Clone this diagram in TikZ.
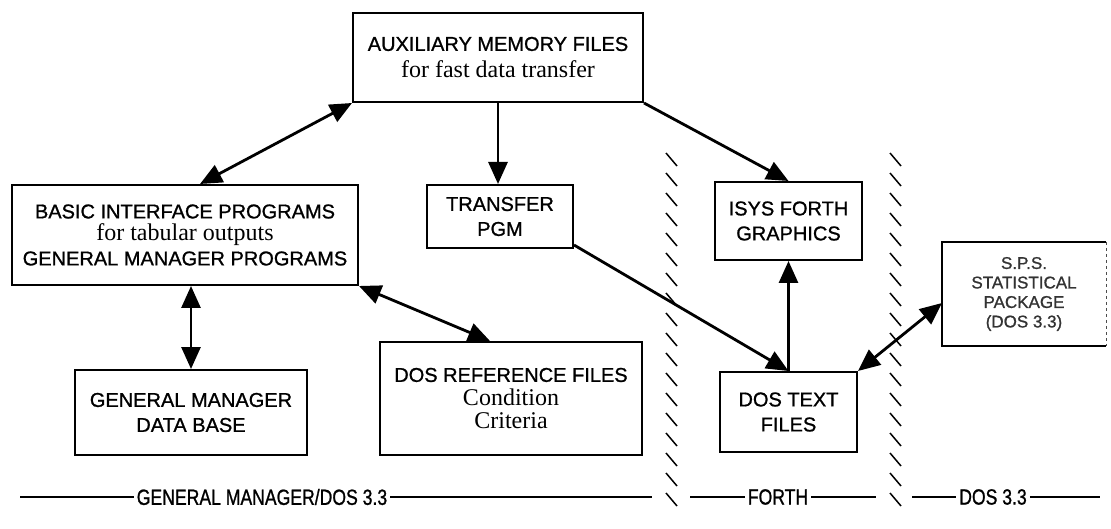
\documentclass[tikz,border=0pt]{standalone}
\usepackage{fontspec}
\setmainfont{Liberation Sans}[RawFeature={embolden=1}]
\newfontfamily\serifpart{Liberation Serif}
\newfontfamily\narrowsans{Liberation Sans}[FakeStretch=0.8, RawFeature={embolden=1}]
\usetikzlibrary{arrows.meta}

\newcommand{\srf}[1]{{\serifpart\fontsize{24}{28}\selectfont #1}}

\tikzset{
    box/.style={draw, line width=2pt, inner sep=0pt, align=center,
        font=\fontsize{20}{25}\selectfont},
    link/.style={line width=2.8pt, -{Triangle[length=22pt,width=19pt]}},
    dbl/.style={line width=2.8pt,
        {Triangle[length=22pt,width=19pt]}-{Triangle[length=22pt,width=19pt]}},
    hatch/.style={line width=1.5pt},
    rule/.style={line width=1.5pt},
    zone/.style={inner sep=3pt, font=\narrowsans\fontsize{22}{24}\selectfont}
}

\begin{document}
\begin{tikzpicture}[x=1pt, y=-1pt]
    \useasboundingbox (0,0) rectangle (1111,529);

    % boxes
    \node[box, minimum width=290pt, minimum height=89pt] (aux) at (498,57.5)
        {AUXILIARY MEMORY FILES\\[2pt] \srf{for fast data transfer}};
    \node[box, minimum width=346pt, minimum height=100pt] (basic) at (185,235)
        {BASIC INTERFACE PROGRAMS\\[-3pt] \srf{for tabular outputs}\\ GENERAL MANAGER PROGRAMS};
    \node[box, minimum width=146pt, minimum height=63pt] (transfer) at (500,216.5)
        {TRANSFER\\ PGM};
    \node[box, minimum width=147pt, minimum height=78pt] (isys) at (788.5,221)
        {ISYS FORTH\\ GRAPHICS};
    \node[box, minimum width=232pt, minimum height=85pt] (gmdb) at (191,412.5)
        {GENERAL MANAGER\\ DATA BASE};
    \node[box, minimum width=262pt, minimum height=113pt] (dosref) at (511,398.5)
        {DOS REFERENCE FILES\\[-1pt] \srf{Condition}\\[-2pt] \srf{Criteria}};
    \node[box, minimum width=137pt, minimum height=80pt] (dostext) at (788.5,412)
        {DOS TEXT\\ FILES};
    \node[box, draw=none, text=black!80, minimum width=162pt, minimum height=102pt,
        font=\fontsize{17}{19.5}\selectfont] (sps) at (1024,294)
        {S.P.S.\\ STATISTICAL\\ PACKAGE\\ (DOS 3.3)};
    \draw[line width=2pt] (sps.north east) -- (sps.north west) -- (sps.south west) -- (sps.south east);
    \draw[line width=1pt, dashed, black!70] (sps.north east) -- (sps.south east);

    % connectors
    \draw[dbl] ([xshift=15pt]basic.north) -- (aux.south west);
    \draw[link] (aux.south) -- (aux.south |- transfer.north);
    \draw[link] (aux.south east) -- (isys.north);
    \draw[link] ([yshift=4pt]transfer.south east) -- (dostext.north);
    \draw[link] (dostext.north) -- (isys.south);
    \draw[dbl] (gmdb.north |- basic.south) -- (gmdb.north);
    \draw[dbl] (basic.south east) -- ([xshift=-21pt]dosref.north);
    \draw[dbl] (dostext.north east) -- ([yshift=-9pt]sps.west);

    % system boundaries
    \foreach \x in {666,890}
        \foreach \y in {153,173,...,500}
            \draw[hatch] (\x,\y) -- ++(11,13);

    % zone labels
    \node[zone] (gm) at (262,497) {GENERAL MANAGER/DOS 3.3};
    \node[zone] (forth) at (778,497) {FORTH};
    \node[zone] (dos) at (993,497) {DOS 3.3};
    \coordinate (gmL) at (20,497);
    \coordinate (gmR) at (652,497);
    \coordinate (forthL) at (690,497);
    \coordinate (forthR) at (876,497);
    \coordinate (dosL) at (912,497);
    \coordinate (dosR) at (1100,497);
    \draw[rule] (gmL) -- (gm.west);
    \draw[rule] (gm.east) -- (gmR);
    \draw[rule] (forthL) -- (forth.west);
    \draw[rule] (forth.east) -- (forthR);
    \draw[rule] (dosL) -- (dos.west);
    \draw[rule] (dos.east) -- (dosR);
\end{tikzpicture}
\end{document}
